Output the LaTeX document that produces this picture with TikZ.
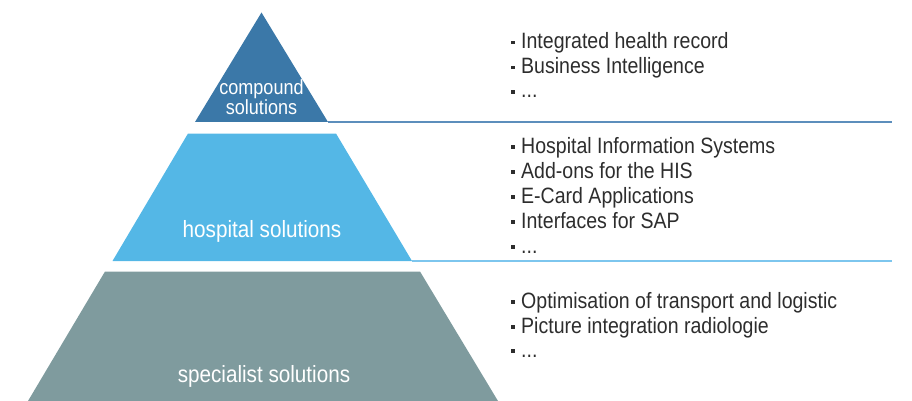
\documentclass[tikz,border=0pt]{standalone}
\usepackage{fontspec}
\setmainfont{Liberation Sans}[FakeStretch=0.88]
\usetikzlibrary{positioning}

\definecolor{compoundblue}{RGB}{59,120,168}
\definecolor{hospitalblue}{RGB}{84,183,230}
\definecolor{specialistgray}{RGB}{127,155,158}
\definecolor{listgray}{RGB}{45,45,45}
\definecolor{toprule}{RGB}{92,142,188}
\definecolor{midrule}{RGB}{125,198,238}

\newcommand{\sqbullet}{\rule[0.2em]{0.15em}{0.15em}\hspace{0.3em}}

\begin{document}
\begin{tikzpicture}[x=1pt, y=-1pt]

      \tikzset{level/.style={draw=none},
               levellabel/.style={text=white, inner sep=0pt, align=center},
               item/.style={anchor=base west, inner sep=0pt, text=listgray, font=\fontsize{22.2}{25}\selectfont},
               divider/.style={line width=1.6pt}}
      \useasboundingbox (0,0) rectangle (912,401);
%% Corners
      	\coordinate (apex) at (261.5,12.5);
      	\coordinate (t1l) at (195,122);
      	\coordinate (t1r) at (328,122);
      	\coordinate (t2tl) at (188,133.5);
      	\coordinate (t2tr) at (336,133.5);
      	\coordinate (t2bl) at (112.5,261);
      	\coordinate (t2br) at (412,261);
      	\coordinate (t3tl) at (105,271.5);
      	\coordinate (t3tr) at (420,271.5);
      	\coordinate (t3bl) at (28,401);
      	\coordinate (t3br) at (498,401);
      	\coordinate (end1) at (892,122);
      	\coordinate (end2) at (892,261);
%Dividers
		\draw [divider, toprule] (t1r) -- (end1);
		\draw [divider, midrule] (t2br) -- (end2);
%Levels
		\fill [level, compoundblue] (apex) -- (t1r) -- (t1l) -- cycle;
		\fill [level, hospitalblue] (t2tl) -- (t2tr) -- (t2br) -- (t2bl) -- cycle;
		\fill [level, specialistgray] (t3tl) -- (t3tr) -- (t3br) -- (t3bl) -- cycle;
%Labels
		\node [levellabel, font=\fontsize{20.5}{18.5}\selectfont] (compound) at (261.5,97) {compound\\solutions};
		\node [levellabel, font=\fontsize{23.5}{25}\selectfont] (hospital) at (262,231) {hospital solutions};
		\node [levellabel, font=\fontsize{23.5}{25}\selectfont] (specialist) at (264,376) {specialist solutions};
%Lists
		\node [item] (c1) at (511,48.5) {\sqbullet Integrated health record};
		\node [item] (c2) at (511,73.5) {\sqbullet Business Intelligence};
		\node [item] (c3) at (511,98) {\sqbullet ...};
		\node [item] (h1) at (511,153) {\sqbullet Hospital Information Systems};
		\node [item] (h2) at (511,178) {\sqbullet Add-ons for the HIS};
		\node [item] (h3) at (511,203) {\sqbullet E-Card Applications};
		\node [item] (h4) at (511,228) {\sqbullet Interfaces for SAP};
		\node [item] (h5) at (511,253) {\sqbullet ...};
		\node [item] (s1) at (511,308) {\sqbullet Optimisation of transport and logistic};
		\node [item] (s2) at (511,333) {\sqbullet Picture integration radiologie};
		\node [item] (s3) at (511,357) {\sqbullet ...};

	\end{tikzpicture}
\end{document}
